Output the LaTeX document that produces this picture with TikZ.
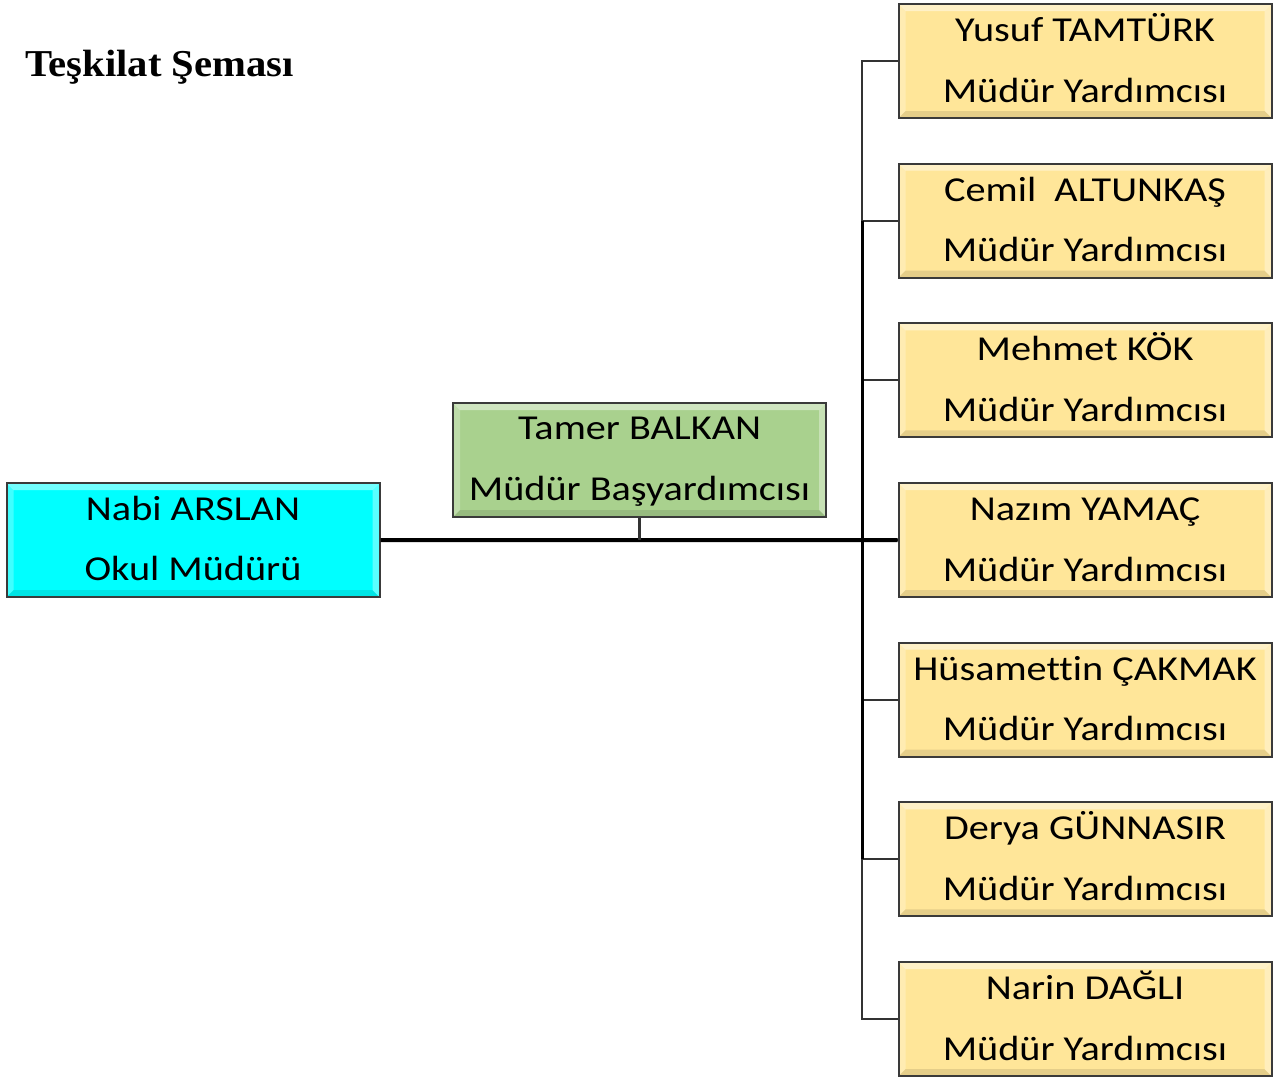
\documentclass[tikz,border=0pt]{standalone}
\usepackage{fontspec}
\setmainfont{Carlito}[Ligatures=NoCommon]
\newfontfamily\titlefont{Liberation Serif}
\usetikzlibrary{calc}
\definecolor{ylw}{HTML}{FFE699}
\definecolor{grn}{HTML}{A9D18E}
\definecolor{cyn}{HTML}{00FFFF}
\definecolor{boxline}{HTML}{3A3A3A}
\definecolor{connc}{HTML}{333333}
\newcommand{\wtxt}[1]{\scalebox{1.15}[1]{#1}}
\begin{document}
\begin{tikzpicture}[x=1pt,y=-1pt,
  box/.style={draw=boxline, line width=2pt, minimum width=373pt, minimum height=114pt, inner sep=0pt,
    path picture={
      \fill[white,opacity=0.45] (path picture bounding box.north west) -- (path picture bounding box.north east)
        -- ([xshift=-7pt,yshift=-7pt]path picture bounding box.north east) -- ([xshift=7pt,yshift=-7pt]path picture bounding box.north west) -- cycle;
      \fill[white,opacity=0.25] (path picture bounding box.north west) -- ([xshift=7pt,yshift=-7pt]path picture bounding box.north west)
        -- ([xshift=7pt,yshift=7pt]path picture bounding box.south west) -- (path picture bounding box.south west) -- cycle;
      \fill[white,opacity=0.35] (path picture bounding box.north east) -- ([xshift=-7pt,yshift=-7pt]path picture bounding box.north east)
        -- ([xshift=-7pt,yshift=7pt]path picture bounding box.south east) -- (path picture bounding box.south east) -- cycle;
      \fill[black,opacity=0.10] (path picture bounding box.south west) -- (path picture bounding box.south east)
        -- ([xshift=-7pt,yshift=7pt]path picture bounding box.south east) -- ([xshift=7pt,yshift=7pt]path picture bounding box.south west) -- cycle;
    }},
  ybox/.style={box, fill=ylw},
  gbox/.style={box, fill=grn},
  cbox/.style={box, fill=cyn},
  txt/.style={anchor=base, font=\fontsize{35}{40}\selectfont, inner sep=0pt},
  conn/.style={draw=connc, line width=2.2pt},
  trunk/.style={draw=black, line width=3pt},
  mainline/.style={draw=black, line width=4pt},
]
\useasboundingbox (0,0) rectangle (1278,1079);

\node[anchor=base west, inner sep=0pt] (title) at (25,76) {\titlefont\bfseries\fontsize{38}{40}\selectfont\scalebox{1.07}[1]{Teşkilat Şeması}};

\coordinate (j) at (862,540);

\node[cbox] (nabi) at (193,540) {};
\node[txt] (nabia) at ($(nabi.center)+(0,-20)$) {\wtxt{Nabi ARSLAN}};
\node[txt] (nabib) at ($(nabi.center)+(0,40)$) {\wtxt{Okul Müdürü}};

\node[gbox] (tamer) at (639.5,460) {};
\node[txt] (tamera) at ($(tamer.center)+(0,-21)$) {\wtxt{Tamer BALKAN}};
\node[txt] (tamerb) at ($(tamer.center)+(0,40)$) {\wtxt{Müdür Başyardımcısı}};

\foreach \i/\nm in {1/{Yusuf TAMTÜRK},2/{Cemil\ \ ALTUNKAŞ},3/{Mehmet KÖK},4/{Nazım YAMAÇ},5/{Hüsamettin ÇAKMAK},6/{Derya GÜNNASIR},7/{Narin DAĞLI}}{
  \pgfmathsetmacro\yc{61+159.67*(\i-1)}
  \node[ybox] (y\i) at (1085,\yc) {};
  \node[txt] (y\i a) at ($(y\i.center)+(0,-19.5)$) {\wtxt{\nm}};
  \node[txt] (y\i b) at ($(y\i.center)+(0,41)$) {\wtxt{Müdür Yardımcısı}};
  \draw[conn] (j) |- (y\i.west);
}

\draw[trunk] (j |- y2.west) -- (j |- y6.west);
\draw[mainline] (nabi.east) -- (y4.west);
\draw[conn] (tamer.south) -- (tamer.south |- j);
\end{tikzpicture}
\end{document}
